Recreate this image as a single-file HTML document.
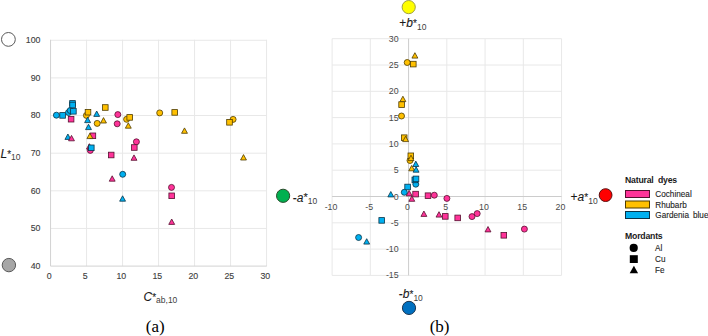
<!DOCTYPE html>
<html><head><meta charset="utf-8"><style>
html,body{margin:0;padding:0;background:#fff;width:708px;height:336px;overflow:hidden}
svg{display:block}
text{font-family:"Liberation Sans",sans-serif}
.t{font-size:8.8px;fill:#404040;stroke:#404040;stroke-width:0.12px}
.r{fill:#4a4a4a;stroke:none}
.ax{font-size:12px;fill:#1a1a1a;stroke:#1a1a1a;stroke-width:0.1px}
.sub{font-size:8.5px;fill:#404040;stroke:none}
.ast{font-size:10px}
.lg{font-size:8.2px;fill:#1f1f1f;stroke:#1f1f1f;stroke-width:0.12px}
.lgh{font-size:8.7px;font-weight:bold;fill:#1a1a1a;letter-spacing:-0.2px}
.cap{font-family:"Liberation Serif",serif;font-size:17px;fill:#000}
</style></head><body>
<svg width="708" height="336" viewBox="0 0 708 336">
<line x1="86.55" y1="39.75" x2="86.55" y2="266.10" stroke="#e8e8e8" stroke-width="1"/>
<line x1="122.55" y1="39.75" x2="122.55" y2="266.10" stroke="#e8e8e8" stroke-width="1"/>
<line x1="158.55" y1="39.75" x2="158.55" y2="266.10" stroke="#e8e8e8" stroke-width="1"/>
<line x1="194.55" y1="39.75" x2="194.55" y2="266.10" stroke="#e8e8e8" stroke-width="1"/>
<line x1="230.55" y1="39.75" x2="230.55" y2="266.10" stroke="#e8e8e8" stroke-width="1"/>
<line x1="266.55" y1="39.75" x2="266.55" y2="266.10" stroke="#e8e8e8" stroke-width="1"/>
<line x1="50.55" y1="40.25" x2="266.75" y2="40.25" stroke="#e8e8e8" stroke-width="1"/>
<line x1="50.55" y1="77.89" x2="266.75" y2="77.89" stroke="#e8e8e8" stroke-width="1"/>
<line x1="50.55" y1="115.53" x2="266.75" y2="115.53" stroke="#e8e8e8" stroke-width="1"/>
<line x1="50.55" y1="153.18" x2="266.75" y2="153.18" stroke="#e8e8e8" stroke-width="1"/>
<line x1="50.55" y1="190.82" x2="266.75" y2="190.82" stroke="#e8e8e8" stroke-width="1"/>
<line x1="50.55" y1="228.46" x2="266.75" y2="228.46" stroke="#e8e8e8" stroke-width="1"/>
<path d="M50.55 39.75V266.10H266.75" fill="none" stroke="#d2d2d2" stroke-width="1"/>
<text x="40.5" y="43.1" text-anchor="end" class="t">100</text>
<text x="40.5" y="80.8" text-anchor="end" class="t">90</text>
<text x="40.5" y="118.4" text-anchor="end" class="t">80</text>
<text x="40.5" y="156.1" text-anchor="end" class="t">70</text>
<text x="40.5" y="193.8" text-anchor="end" class="t">60</text>
<text x="40.5" y="231.4" text-anchor="end" class="t">50</text>
<text x="40.5" y="269.1" text-anchor="end" class="t">40</text>
<text x="49.3" y="279.3" text-anchor="middle" class="t">0</text>
<text x="85.3" y="279.3" text-anchor="middle" class="t">5</text>
<text x="121.3" y="279.3" text-anchor="middle" class="t">10</text>
<text x="157.3" y="279.3" text-anchor="middle" class="t">15</text>
<text x="193.3" y="279.3" text-anchor="middle" class="t">20</text>
<text x="229.3" y="279.3" text-anchor="middle" class="t">25</text>
<text x="265.3" y="279.3" text-anchor="middle" class="t">30</text>
<line x1="332.10" y1="38.7" x2="332.10" y2="275.4" stroke="#e8e8e8" stroke-width="1"/>
<line x1="370.34" y1="38.7" x2="370.34" y2="275.4" stroke="#e8e8e8" stroke-width="1"/>
<line x1="446.82" y1="38.7" x2="446.82" y2="275.4" stroke="#e8e8e8" stroke-width="1"/>
<line x1="485.07" y1="38.7" x2="485.07" y2="275.4" stroke="#e8e8e8" stroke-width="1"/>
<line x1="523.31" y1="38.7" x2="523.31" y2="275.4" stroke="#e8e8e8" stroke-width="1"/>
<line x1="561.55" y1="38.7" x2="561.55" y2="275.4" stroke="#e8e8e8" stroke-width="1"/>
<line x1="332.1" y1="38.70" x2="561.55" y2="38.70" stroke="#e8e8e8" stroke-width="1"/>
<line x1="332.1" y1="65.00" x2="561.55" y2="65.00" stroke="#e8e8e8" stroke-width="1"/>
<line x1="332.1" y1="91.30" x2="561.55" y2="91.30" stroke="#e8e8e8" stroke-width="1"/>
<line x1="332.1" y1="117.60" x2="561.55" y2="117.60" stroke="#e8e8e8" stroke-width="1"/>
<line x1="332.1" y1="143.90" x2="561.55" y2="143.90" stroke="#e8e8e8" stroke-width="1"/>
<line x1="332.1" y1="170.20" x2="561.55" y2="170.20" stroke="#e8e8e8" stroke-width="1"/>
<line x1="332.1" y1="222.80" x2="561.55" y2="222.80" stroke="#e8e8e8" stroke-width="1"/>
<line x1="332.1" y1="249.10" x2="561.55" y2="249.10" stroke="#e8e8e8" stroke-width="1"/>
<line x1="332.1" y1="275.40" x2="561.55" y2="275.40" stroke="#e8e8e8" stroke-width="1"/>
<line x1="408.58" y1="38.7" x2="408.58" y2="275.4" stroke="#cccccc" stroke-width="1"/>
<line x1="332.1" y1="196.50" x2="561.55" y2="196.50" stroke="#cccccc" stroke-width="1"/>
<text x="398.6" y="41.7" text-anchor="end" class="t r">30</text>
<text x="398.6" y="68.0" text-anchor="end" class="t r">25</text>
<text x="398.6" y="94.3" text-anchor="end" class="t r">20</text>
<text x="398.6" y="120.6" text-anchor="end" class="t r">15</text>
<text x="398.6" y="146.9" text-anchor="end" class="t r">10</text>
<text x="398.6" y="173.2" text-anchor="end" class="t r">5</text>
<text x="398.6" y="199.5" text-anchor="end" class="t r">0</text>
<text x="398.6" y="225.8" text-anchor="end" class="t r">-5</text>
<text x="398.6" y="252.1" text-anchor="end" class="t r">-10</text>
<text x="398.6" y="278.4" text-anchor="end" class="t r">-15</text>
<text x="331.0" y="210" text-anchor="middle" class="t r">-10</text>
<text x="369.2" y="210" text-anchor="middle" class="t r">-5</text>
<text x="407.5" y="210" text-anchor="middle" class="t r">0</text>
<text x="445.7" y="210" text-anchor="middle" class="t r">5</text>
<text x="484.0" y="210" text-anchor="middle" class="t r">10</text>
<text x="522.2" y="210" text-anchor="middle" class="t r">15</text>
<text x="560.4" y="210" text-anchor="middle" class="t r">20</text>
<circle cx="56.4" cy="115.2" r="3.00" fill="#00B0F0" stroke="#0a3448" stroke-width="0.8"/>
<rect x="59.8" y="112.6" width="5.6" height="5.6" fill="#00B0F0" stroke="#0a3448" stroke-width="0.8"/>
<circle cx="68.5" cy="112.5" r="3.00" fill="#00B0F0" stroke="#0a3448" stroke-width="0.8"/>
<circle cx="70.2" cy="110.5" r="3.00" fill="#00B0F0" stroke="#0a3448" stroke-width="0.8"/>
<rect x="69.7" y="100.6" width="5.6" height="5.6" fill="#00B0F0" stroke="#0a3448" stroke-width="0.8"/>
<rect x="69.8" y="102.2" width="5.6" height="5.6" fill="#00B0F0" stroke="#0a3448" stroke-width="0.8"/>
<rect x="70.6" y="108.5" width="5.6" height="5.6" fill="#00B0F0" stroke="#0a3448" stroke-width="0.8"/>
<rect x="68.3" y="116.4" width="5.6" height="5.6" fill="#FF3399" stroke="#55102f" stroke-width="0.8"/>
<path d="M67.90 134.00L70.85 139.40L64.95 139.40Z" fill="#00B0F0" stroke="#0a3448" stroke-width="0.8" stroke-linejoin="round"/>
<path d="M71.50 135.40L74.45 140.80L68.55 140.80Z" fill="#FF3399" stroke="#55102f" stroke-width="0.8" stroke-linejoin="round"/>
<circle cx="86.4" cy="115.4" r="3.00" fill="#FFC000" stroke="#4f3c00" stroke-width="0.8"/>
<rect x="85.2" y="109.4" width="5.6" height="5.6" fill="#FFC000" stroke="#4f3c00" stroke-width="0.8"/>
<path d="M96.70 111.00L99.65 116.40L93.75 116.40Z" fill="#00B0F0" stroke="#0a3448" stroke-width="0.8" stroke-linejoin="round"/>
<rect x="102.5" y="104.7" width="5.6" height="5.6" fill="#FFC000" stroke="#4f3c00" stroke-width="0.8"/>
<path d="M87.60 117.20L90.55 122.60L84.65 122.60Z" fill="#00B0F0" stroke="#0a3448" stroke-width="0.8" stroke-linejoin="round"/>
<path d="M88.50 124.20L91.45 129.60L85.55 129.60Z" fill="#00B0F0" stroke="#0a3448" stroke-width="0.8" stroke-linejoin="round"/>
<circle cx="97.2" cy="123.4" r="3.00" fill="#FFC000" stroke="#4f3c00" stroke-width="0.8"/>
<path d="M103.50 117.60L106.45 123.00L100.55 123.00Z" fill="#FFC000" stroke="#4f3c00" stroke-width="0.8" stroke-linejoin="round"/>
<rect x="90.1" y="133.0" width="5.6" height="5.6" fill="#FF3399" stroke="#55102f" stroke-width="0.8"/>
<path d="M89.90 133.20L92.85 138.60L86.95 138.60Z" fill="#FFC000" stroke="#4f3c00" stroke-width="0.8" stroke-linejoin="round"/>
<path d="M89.40 143.70L92.35 149.10L86.45 149.10Z" fill="#FF3399" stroke="#55102f" stroke-width="0.8" stroke-linejoin="round"/>
<circle cx="90.3" cy="150.4" r="3.00" fill="#FF3399" stroke="#55102f" stroke-width="0.8"/>
<rect x="88.5" y="145.0" width="5.6" height="5.6" fill="#00B0F0" stroke="#0a3448" stroke-width="0.8"/>
<rect x="108.4" y="152.2" width="5.6" height="5.6" fill="#FF3399" stroke="#55102f" stroke-width="0.8"/>
<circle cx="117.8" cy="114.6" r="3.00" fill="#FF3399" stroke="#55102f" stroke-width="0.8"/>
<circle cx="117.2" cy="123.8" r="3.00" fill="#FF3399" stroke="#55102f" stroke-width="0.8"/>
<circle cx="126.6" cy="119.3" r="3.00" fill="#FFC000" stroke="#4f3c00" stroke-width="0.8"/>
<rect x="126.9" y="114.6" width="5.6" height="5.6" fill="#FFC000" stroke="#4f3c00" stroke-width="0.8"/>
<path d="M128.30 122.80L131.25 128.20L125.35 128.20Z" fill="#FFC000" stroke="#4f3c00" stroke-width="0.8" stroke-linejoin="round"/>
<circle cx="136.4" cy="141.8" r="3.00" fill="#FF3399" stroke="#55102f" stroke-width="0.8"/>
<rect x="131.5" y="144.7" width="5.6" height="5.6" fill="#FF3399" stroke="#55102f" stroke-width="0.8"/>
<path d="M134.00 154.90L136.95 160.30L131.05 160.30Z" fill="#FF3399" stroke="#55102f" stroke-width="0.8" stroke-linejoin="round"/>
<circle cx="122.7" cy="174.3" r="3.00" fill="#00B0F0" stroke="#0a3448" stroke-width="0.8"/>
<path d="M112.20 175.80L115.15 181.20L109.25 181.20Z" fill="#FF3399" stroke="#55102f" stroke-width="0.8" stroke-linejoin="round"/>
<path d="M122.60 195.80L125.55 201.20L119.65 201.20Z" fill="#00B0F0" stroke="#0a3448" stroke-width="0.8" stroke-linejoin="round"/>
<circle cx="159.7" cy="112.9" r="3.00" fill="#FFC000" stroke="#4f3c00" stroke-width="0.8"/>
<rect x="171.9" y="109.6" width="5.6" height="5.6" fill="#FFC000" stroke="#4f3c00" stroke-width="0.8"/>
<path d="M184.50 127.90L187.45 133.30L181.55 133.30Z" fill="#FFC000" stroke="#4f3c00" stroke-width="0.8" stroke-linejoin="round"/>
<circle cx="233.1" cy="119.4" r="3.00" fill="#FFC000" stroke="#4f3c00" stroke-width="0.8"/>
<rect x="226.7" y="119.5" width="5.6" height="5.6" fill="#FFC000" stroke="#4f3c00" stroke-width="0.8"/>
<path d="M243.50 154.60L246.45 160.00L240.55 160.00Z" fill="#FFC000" stroke="#4f3c00" stroke-width="0.8" stroke-linejoin="round"/>
<circle cx="171.5" cy="187.4" r="3.00" fill="#FF3399" stroke="#55102f" stroke-width="0.8"/>
<rect x="168.9" y="193.0" width="5.6" height="5.6" fill="#FF3399" stroke="#55102f" stroke-width="0.8"/>
<path d="M171.70 219.00L174.65 224.40L168.75 224.40Z" fill="#FF3399" stroke="#55102f" stroke-width="0.8" stroke-linejoin="round"/>
<circle cx="407.2" cy="62.5" r="3.00" fill="#FFC000" stroke="#4f3c00" stroke-width="0.8"/>
<rect x="410.5" y="61.3" width="5.6" height="5.6" fill="#FFC000" stroke="#4f3c00" stroke-width="0.8"/>
<path d="M414.90 52.70L417.85 58.10L411.95 58.10Z" fill="#FFC000" stroke="#4f3c00" stroke-width="0.8" stroke-linejoin="round"/>
<path d="M402.90 96.20L405.85 101.60L399.95 101.60Z" fill="#FFC000" stroke="#4f3c00" stroke-width="0.8" stroke-linejoin="round"/>
<rect x="398.8" y="101.8" width="5.6" height="5.6" fill="#FFC000" stroke="#4f3c00" stroke-width="0.8"/>
<circle cx="401.5" cy="116.0" r="3.00" fill="#FFC000" stroke="#4f3c00" stroke-width="0.8"/>
<rect x="401.4" y="134.9" width="5.6" height="5.6" fill="#FFC000" stroke="#4f3c00" stroke-width="0.8"/>
<path d="M405.60 136.20L408.55 141.60L402.65 141.60Z" fill="#FFC000" stroke="#4f3c00" stroke-width="0.8" stroke-linejoin="round"/>
<circle cx="410.0" cy="160.5" r="3.00" fill="#FFC000" stroke="#4f3c00" stroke-width="0.8"/>
<rect x="408.0" y="153.0" width="5.6" height="5.6" fill="#FFC000" stroke="#4f3c00" stroke-width="0.8"/>
<path d="M411.00 155.20L413.95 160.60L408.05 160.60Z" fill="#FFC000" stroke="#4f3c00" stroke-width="0.8" stroke-linejoin="round"/>
<path d="M411.70 165.40L414.65 170.80L408.75 170.80Z" fill="#FFC000" stroke="#4f3c00" stroke-width="0.8" stroke-linejoin="round"/>
<path d="M415.80 161.10L418.75 166.50L412.85 166.50Z" fill="#00B0F0" stroke="#0a3448" stroke-width="0.8" stroke-linejoin="round"/>
<path d="M416.10 166.80L419.05 172.20L413.15 172.20Z" fill="#00B0F0" stroke="#0a3448" stroke-width="0.8" stroke-linejoin="round"/>
<circle cx="415.8" cy="184.2" r="3.00" fill="#00B0F0" stroke="#0a3448" stroke-width="0.8"/>
<rect x="412.0" y="177.1" width="5.6" height="5.6" fill="#00B0F0" stroke="#0a3448" stroke-width="0.8"/>
<rect x="413.2" y="176.1" width="5.6" height="5.6" fill="#00B0F0" stroke="#0a3448" stroke-width="0.8"/>
<rect x="404.8" y="184.2" width="5.6" height="5.6" fill="#00B0F0" stroke="#0a3448" stroke-width="0.8"/>
<circle cx="404.3" cy="192.3" r="3.00" fill="#00B0F0" stroke="#0a3448" stroke-width="0.8"/>
<path d="M390.80 191.50L393.75 196.90L387.85 196.90Z" fill="#00B0F0" stroke="#0a3448" stroke-width="0.8" stroke-linejoin="round"/>
<path d="M409.20 190.50L412.15 195.90L406.25 195.90Z" fill="#FF3399" stroke="#55102f" stroke-width="0.8" stroke-linejoin="round"/>
<rect x="412.8" y="191.3" width="5.6" height="5.6" fill="#FF3399" stroke="#55102f" stroke-width="0.8"/>
<path d="M411.80 195.90L414.75 201.30L408.85 201.30Z" fill="#FF3399" stroke="#55102f" stroke-width="0.8" stroke-linejoin="round"/>
<rect x="425.2" y="192.9" width="5.6" height="5.6" fill="#FF3399" stroke="#55102f" stroke-width="0.8"/>
<circle cx="434.3" cy="195.2" r="3.00" fill="#FF3399" stroke="#55102f" stroke-width="0.8"/>
<circle cx="446.9" cy="198.4" r="3.00" fill="#FF3399" stroke="#55102f" stroke-width="0.8"/>
<path d="M423.90 211.00L426.85 216.40L420.95 216.40Z" fill="#FF3399" stroke="#55102f" stroke-width="0.8" stroke-linejoin="round"/>
<path d="M439.00 211.70L441.95 217.10L436.05 217.10Z" fill="#FF3399" stroke="#55102f" stroke-width="0.8" stroke-linejoin="round"/>
<rect x="442.5" y="213.6" width="5.6" height="5.6" fill="#FF3399" stroke="#55102f" stroke-width="0.8"/>
<rect x="454.9" y="215.1" width="5.6" height="5.6" fill="#FF3399" stroke="#55102f" stroke-width="0.8"/>
<circle cx="472.0" cy="216.6" r="3.00" fill="#FF3399" stroke="#55102f" stroke-width="0.8"/>
<circle cx="477.2" cy="213.6" r="3.00" fill="#FF3399" stroke="#55102f" stroke-width="0.8"/>
<path d="M488.00 226.50L490.95 231.90L485.05 231.90Z" fill="#FF3399" stroke="#55102f" stroke-width="0.8" stroke-linejoin="round"/>
<rect x="501.0" y="232.5" width="5.6" height="5.6" fill="#FF3399" stroke="#55102f" stroke-width="0.8"/>
<circle cx="524.4" cy="229.1" r="3.00" fill="#FF3399" stroke="#55102f" stroke-width="0.8"/>
<rect x="378.9" y="217.6" width="5.6" height="5.6" fill="#00B0F0" stroke="#0a3448" stroke-width="0.8"/>
<circle cx="358.6" cy="237.5" r="3.00" fill="#00B0F0" stroke="#0a3448" stroke-width="0.8"/>
<path d="M366.70 238.70L369.65 244.10L363.75 244.10Z" fill="#00B0F0" stroke="#0a3448" stroke-width="0.8" stroke-linejoin="round"/>
<circle cx="8.4" cy="39.4" r="6.9" fill="#fff" stroke="#595959" stroke-width="1"/>
<circle cx="8.9" cy="265.1" r="6.7" fill="#a6a6a6" stroke="#595959" stroke-width="1"/>
<circle cx="283.1" cy="195.8" r="6.6" fill="#00B050" stroke="#2b4a2b" stroke-width="1"/>
<circle cx="408.7" cy="7.1" r="6.6" fill="#FFFF00" stroke="#a0a040" stroke-width="1"/>
<circle cx="605.6" cy="195.1" r="6.4" fill="#FF0000" stroke="#5a1010" stroke-width="1"/>
<circle cx="409.0" cy="307.9" r="6.6" fill="#0070C0" stroke="#1d3550" stroke-width="1"/>
<text x="625" y="183.4" class="lgh">Natural<tspan x="658">dyes</tspan></text>
<rect x="625.5" y="190.5" width="24" height="7" fill="#FF3399" stroke="#55102f" stroke-width="1"/>
<rect x="625.5" y="201" width="24" height="7" fill="#FFC000" stroke="#4f3c00" stroke-width="1"/>
<rect x="625.5" y="211.5" width="24" height="7" fill="#00B0F0" stroke="#0a3448" stroke-width="1"/>
<text x="655.3" y="197" class="lg">Cochineal</text>
<text x="655.3" y="207.6" class="lg">Rhubarb</text>
<text x="655.3" y="218.2" class="lg">Gardenia<tspan x="693">blue</tspan></text>
<text x="625" y="238.6" class="lgh">Mordants</text>
<circle cx="633.7" cy="247.9" r="4.1" fill="#000"/>
<rect x="629.8" y="255.2" width="8" height="7.8" fill="#000"/>
<path d="M633.9 265.7L638.1 273.2L629.7 273.2Z" fill="#000"/>
<text x="655.1" y="250.8" class="lg">Al</text>
<text x="655.1" y="262" class="lg">Cu</text>
<text x="655.1" y="273.2" class="lg">Fe</text>
<text x="0.5" y="157.8" class="ax"><tspan font-style="italic">L</tspan><tspan class="ast">*</tspan><tspan dy="2.0" class="sub">10</tspan></text>
<text x="143.5" y="300.8" class="ax"><tspan font-style="italic">C</tspan><tspan class="ast">*</tspan><tspan dy="2.2" class="sub">ab,10</tspan></text>
<text x="399.3" y="27.4" class="ax">+<tspan font-style="italic">b</tspan><tspan class="ast">*</tspan><tspan dy="2.4" class="sub">10</tspan></text>
<text x="292.8" y="201.7" class="ax">-<tspan font-style="italic">a</tspan><tspan dy="-1.2" font-size="11px">*</tspan><tspan dy="3.2" class="sub">10</tspan></text>
<text x="570.6" y="201.4" class="ax">+<tspan font-style="italic">a</tspan><tspan class="ast">*</tspan><tspan dy="2.1" class="sub">10</tspan></text>
<text x="398.8" y="297.9" class="ax">-<tspan font-style="italic">b</tspan><tspan class="ast">*</tspan><tspan dy="2.6" class="sub">10</tspan></text>
<text x="155.3" y="332.3" text-anchor="middle" class="cap">(a)</text>
<text x="439.6" y="332.3" text-anchor="middle" class="cap">(b)</text>
</svg>
</body></html>
